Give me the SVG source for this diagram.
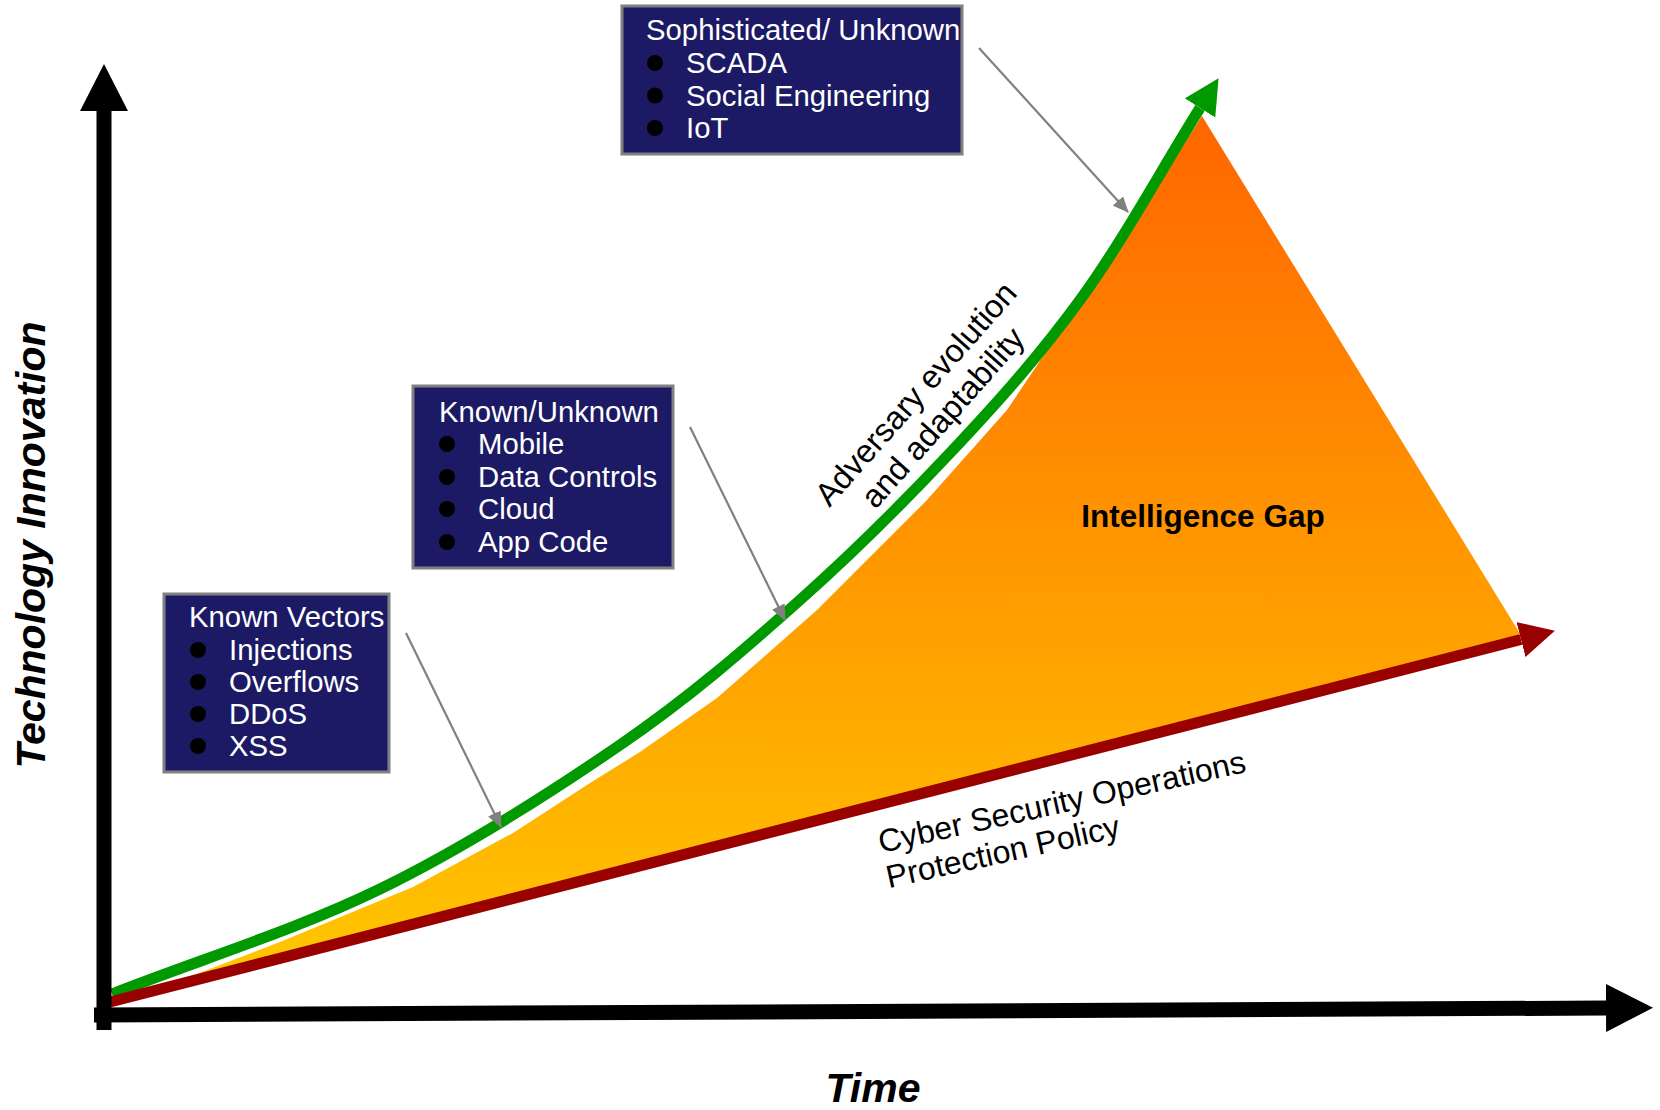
<svg xmlns="http://www.w3.org/2000/svg" width="1660" height="1110" viewBox="0 0 1660 1110">
<style>
  .lbl { font-family: "Liberation Sans", Arial, sans-serif; }
  .box rect { fill: #1C1A64; stroke: #808080; stroke-width: 3; }
  .box text { font-family: "Liberation Sans", Arial, sans-serif; font-size: 29.3px; fill: #FFFFFF; }
  .box circle { fill: #000000; }
  .callout { stroke: #808080; stroke-width: 2.2; fill: none; marker-end: url(#grayHead); }
  .axis { stroke: #000000; stroke-width: 15; fill: none; }
</style>
<defs>
  <linearGradient id="gapGrad" gradientUnits="userSpaceOnUse" x1="0" y1="116" x2="0" y2="990">
    <stop offset="0" stop-color="#FF6600"/>
    <stop offset="1" stop-color="#FFC800"/>
  </linearGradient>
  <marker id="axisHead" markerUnits="userSpaceOnUse" markerWidth="48" markerHeight="48" refX="0" refY="24" orient="auto" viewBox="0 0 48 48">
    <path d="M0,0 L47,24 L0,48 Z" fill="#000000"/>
  </marker>
  <marker id="greenHead" markerUnits="userSpaceOnUse" markerWidth="36" markerHeight="36" refX="0" refY="18" orient="auto" viewBox="0 0 36 36">
    <path d="M0,0 L35,18 L0,36 Z" fill="#009900"/>
  </marker>
  <marker id="redHead" markerUnits="userSpaceOnUse" markerWidth="36" markerHeight="36" refX="0" refY="18" orient="auto" viewBox="0 0 36 36">
    <path d="M0,0 L35,18 L0,36 Z" fill="#990000"/>
  </marker>
  <marker id="grayHead" markerUnits="userSpaceOnUse" markerWidth="16" markerHeight="14" refX="15" refY="7" orient="auto" viewBox="0 0 16 14">
    <path d="M0,0 L16,7 L0,14 Z" fill="#808080"/>
  </marker>
</defs>

<g id="intelligence-gap">
  <path d="M150,992 L280,942 L413,887 L513,833 L590,783 L640,752 L717,698 L817,610 L927,500 L1007,410 L1083,297 L1150,197 L1202,116 L1519,632 L1519,642 Z" fill="url(#gapGrad)"/>
  <text class="lbl" x="1203" y="527" font-size="31.5" font-weight="bold" text-anchor="middle" fill="#000000">Intelligence Gap</text>
</g>

<g id="connectors">
  <path id="adversary-curve" d="M112,994 C201,959 295,930.5 380,889 C465,847.5 550,793 620,745 C690,697 745,649 800,600 C855,551 903,503 950,453 C997,403 1038,357.5 1080,300 C1122,242.5 1160,172 1200,108" stroke="#009900" stroke-width="11" fill="none" marker-end="url(#greenHead)"/>
  <path id="protection-line" d="M110,1002 L1521,639.5" stroke="#990000" stroke-width="11" fill="none" marker-end="url(#redHead)"/>
  <path id="y-axis" class="axis" d="M104,1030 L104,111" marker-end="url(#axisHead)"/>
  <path id="x-axis" class="axis" d="M94,1015 L1606,1008" marker-end="url(#axisHead)"/>
  <path class="callout" d="M979,48 L1128,212"/>
  <path class="callout" d="M690,427 L785,620"/>
  <path class="callout" d="M406,633 L501,827"/>
</g>

<g id="box-sophisticated" class="box">
  <rect x="622" y="6" width="340" height="148"/>
  <text x="646" y="40">Sophisticated/ Unknown</text>
  <circle cx="655" cy="63" r="8"/><text x="686" y="73">SCADA</text>
  <circle cx="655" cy="95.5" r="8"/><text x="686" y="105.5">Social Engineering</text>
  <circle cx="655" cy="128" r="8"/><text x="686" y="138">IoT</text>
</g>

<g id="box-known-unknown" class="box">
  <rect x="413" y="386" width="260" height="182"/>
  <text x="439" y="422">Known/Unknown</text>
  <circle cx="447" cy="444" r="8"/><text x="478" y="454">Mobile</text>
  <circle cx="447" cy="477" r="8"/><text x="478" y="487">Data Controls</text>
  <circle cx="447" cy="509" r="8"/><text x="478" y="519">Cloud</text>
  <circle cx="447" cy="542" r="8"/><text x="478" y="552">App Code</text>
</g>

<g id="box-known-vectors" class="box">
  <rect x="164" y="594" width="225" height="178"/>
  <text x="189" y="627">Known Vectors</text>
  <circle cx="198" cy="650" r="8"/><text x="229" y="660">Injections</text>
  <circle cx="198" cy="682" r="8"/><text x="229" y="692">Overflows</text>
  <circle cx="198" cy="714" r="8"/><text x="229" y="724">DDoS</text>
  <circle cx="198" cy="746" r="8"/><text x="229" y="756">XSS</text>
</g>

<g id="label-adversary" transform="translate(924,401) rotate(-48.5)">
  <text class="lbl" x="0" y="0" font-size="32.5" text-anchor="middle" fill="#000000">Adversary evolution</text>
  <text class="lbl" x="0" y="36" font-size="32.5" text-anchor="middle" fill="#000000">and adaptability</text>
</g>

<g id="label-protection" transform="translate(881,853) rotate(-12.5)">
  <text class="lbl" x="0" y="0" font-size="32" fill="#000000">Cyber Security Operations</text>
  <text class="lbl" x="0" y="36" font-size="32" fill="#000000">Protection Policy</text>
</g>

<g id="axis-labels">
  <text class="lbl" x="873" y="1102" font-size="41" font-weight="bold" font-style="italic" text-anchor="middle" fill="#000000">Time</text>
  <text class="lbl" transform="translate(45,545) rotate(-90)" x="0" y="0" font-size="41" font-weight="bold" font-style="italic" text-anchor="middle" fill="#000000">Technology Innovation</text>
</g>
</svg>
